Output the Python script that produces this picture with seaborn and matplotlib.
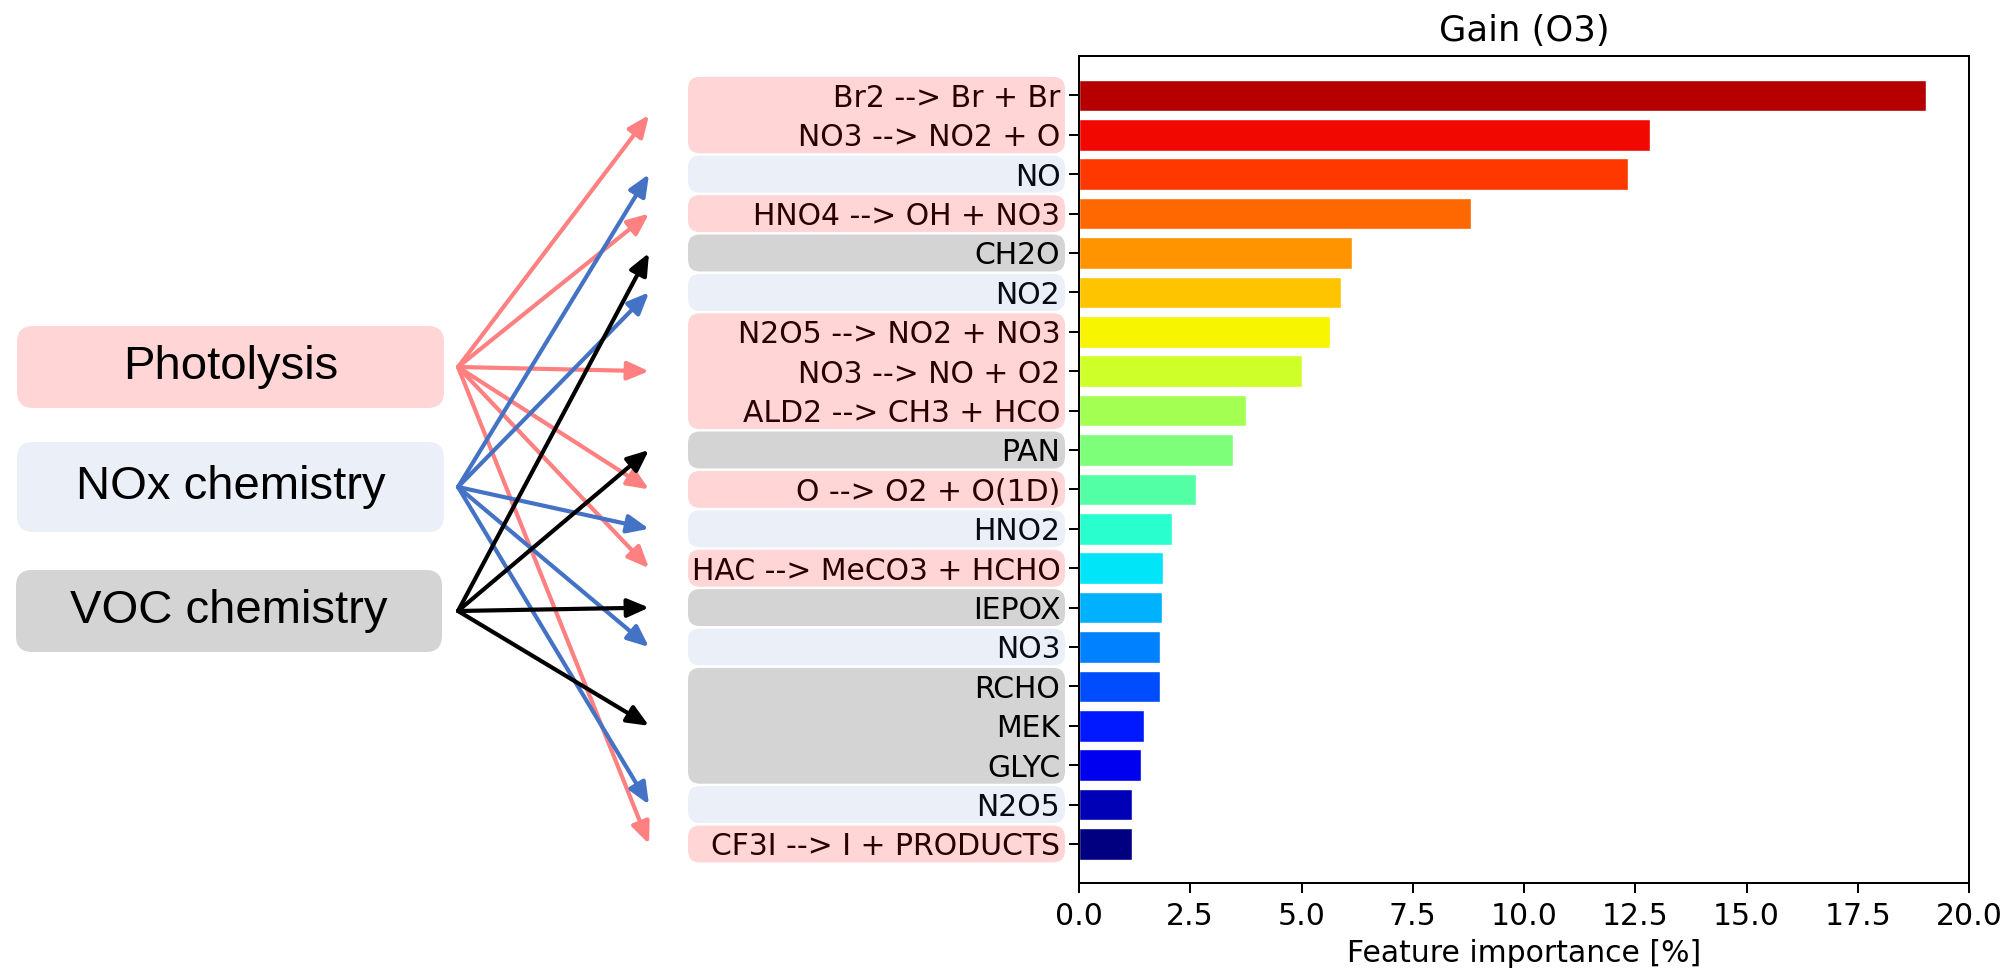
import numpy as np
import matplotlib
matplotlib.use("Agg")
import matplotlib.pyplot as plt
import seaborn as sns
from matplotlib.patches import FancyBboxPatch, FancyArrowPatch
from matplotlib.transforms import IdentityTransform

# -----------------------------
# Data
# -----------------------------

features = ["Br2 --> Br + Br", "NO3 --> NO2 + O", "NO", "HNO4 --> OH + NO3",
            "CH2O", "NO2", "N2O5 --> NO2 + NO3", "NO3 --> NO + O2",
            "ALD2 --> CH3 + HCO", "PAN", "O --> O2 + O(1D)", "HNO2",
            "HAC --> MeCO3 + HCHO", "IEPOX", "NO3", "RCHO", "MEK", "GLYC",
            "N2O5", "CF3I --> I + PRODUCTS"]

importance = [19.04, 12.84, 12.33, 8.82, 6.14, 5.89, 5.63, 5.01, 3.75, 3.46,
              2.62, 2.09, 1.88, 1.86, 1.82, 1.82, 1.47, 1.40, 1.19, 1.19]

process = ["photo", "photo", "nox", "photo", "voc", "nox", "photo", "photo",
           "photo", "voc", "photo", "nox", "photo", "voc", "nox", "voc",
           "voc", "voc", "nox", "photo"]

categories = ["photo", "nox", "voc"]
category_names = ["Photolysis", "NOx chemistry", "VOC chemistry"]

# -----------------------------
# Styles
# -----------------------------

W, H = 2013, 973
box_fill = {"photo": "#ffd5d5", "nox": "#ebeff8", "voc": "#d4d4d4"}
overlay = {"photo": ("#ff0000", 0.165), "nox": ("#4472c4", 0.107),
           "voc": ("#000000", 0.17)}
arrow_color = {"photo": "#ff8080", "nox": "#4472c4", "voc": "black"}

# left boxes in pixels (x0, x1, top, bottom) from image top
left_boxes = {"photo": (17, 444, 326, 408),
              "nox": (17, 444, 442, 532),
              "voc": (16, 442, 570, 652)}

sns.set_style("ticks", {"axes.edgecolor": "black", "text.color": "black",
                        "axes.labelcolor": "black",
                        "xtick.color": "black", "ytick.color": "black"})
plt.rcParams["font.family"] = ["DejaVu Sans"]

fig = plt.figure(figsize=(W / 100, H / 100), dpi=100)
ax = fig.add_axes([1079 / W, 1 - 883 / H, (1969 - 1079) / W, (883 - 56) / H])

n = len(features)
bar_colors = plt.cm.jet(np.arange(n)[::-1] / n)

sns.barplot(x=importance, y=features, hue=features, palette=list(bar_colors),
            saturation=1, legend=False, orient="h", ax=ax, width=0.8)

ax.set_xlim(0, 20)
ax.set_ylim(19.99, -1.0)
ax.set_title("Gain (O3)", fontsize=25.5, pad=11, color="black")
ax.set_xlabel("Feature importance [%]", fontsize=21.5, labelpad=6,
              color="black")
ax.set_ylabel("")
ax.tick_params(labelsize=21.5, length=7, width=1.44, pad=6.5,
               labelcolor="black")
for sp in ax.spines.values():
    sp.set_linewidth(1.44)
    sp.set_visible(True)

# -----------------------------
# Group boxes over tick labels
# -----------------------------

runs = []
start = 0
for i in range(1, n + 1):
    if i == n or process[i] != process[start]:
        runs.append((process[start], start, i - 1))
        start = i

ident = IdentityTransform()
for cat, a, b in runs:
    y_top = ax.transData.transform((0, a - 0.47))[1]
    y_bot = ax.transData.transform((0, b + 0.47))[1]
    col, al = overlay[cat]
    patch = FancyBboxPatch((688, y_bot), 1065 - 688, y_top - y_bot,
                           boxstyle="round,pad=0,rounding_size=12",
                           transform=ident, fc=col, ec="none", alpha=al,
                           zorder=5)
    fig.add_artist(patch)

# -----------------------------
# Category boxes on the left
# -----------------------------

origins = {}
for cat, name in zip(categories, category_names):
    x0, x1, top, bot = left_boxes[cat]
    patch = FancyBboxPatch((x0, H - bot), x1 - x0, bot - top,
                           boxstyle="round,pad=0,rounding_size=16",
                           transform=ident, fc=box_fill[cat], ec="none",
                           zorder=2)
    fig.add_artist(patch)
    yc = H - (top + bot) / 2
    fig.text((x0 + x1) / 2, yc, name, transform=ident, ha="center",
             va="center", fontsize=34, family="Liberation Sans",
             color="black", zorder=3)
    origins[cat] = (458, yc)

# -----------------------------
# Arrows
# -----------------------------

for k, cat in enumerate(categories):
    for c, a, b in runs:
        if c != cat:
            continue
        yB = ax.transData.transform((0, (a + b) / 2))[1]
        arr = FancyArrowPatch(origins[cat], (649, yB),
                              arrowstyle="-|>,head_length=0.65,head_width=0.28",
                              mutation_scale=20, lw=3.0,
                              color=arrow_color[cat], transform=ident,
                              shrinkA=0, shrinkB=0, zorder=6 + k)
        fig.add_artist(arr)

fig.savefig("out.png", dpi=100)
